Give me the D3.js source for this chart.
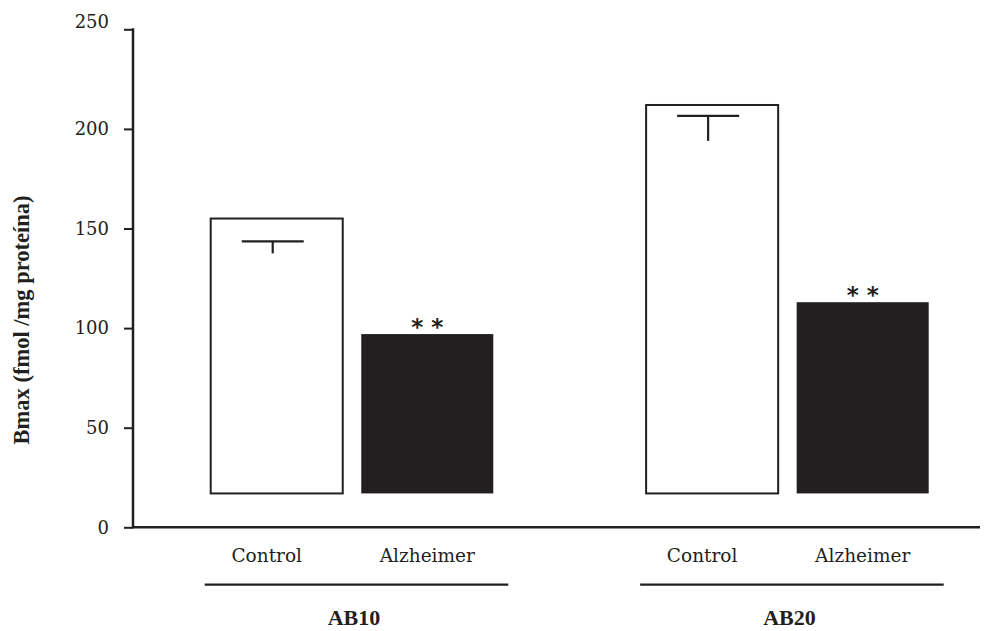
<!DOCTYPE html>
<html>
<head>
<meta charset="utf-8">
<script src="https://cdn.jsdelivr.net/npm/d3@7"></script>
<style>
  body { margin: 0; background: #fff; }
</style>
</head>
<body>
<script>
var groups = ["AB10", "AB20"];
var conditions = ["Control", "Alzheimer"];
var controlValues = [155, 212];
var alzheimerValues = [97, 113];
var controlErrTop = [143.5, 206.5];
var controlErrLow = [137.5, 194];
var significance = ["", "* *"];
var yTicks = [0, 50, 100, 150, 200, 250];
var barBase = 17;

var width = 993;
var height = 631;
var ink = "#231f20";

var svg = d3.select("body")
    .append("svg")
    .attr("width", width)
    .attr("height", height);

var y = d3.scaleLinear()
    .domain([0, 250])
    .range([527.3, 29.3]);

var x = d3.scaleBand()
    .domain(groups)
    .range([210.7, 928.7])
    .paddingInner(0.351)
    .paddingOuter(0);

var xi = d3.scaleBand()
    .domain(conditions)
    .range([0, x.bandwidth()])
    .paddingInner(0.123);

// rows: one per bar
var rows = [];
groups.forEach(function(g, i) {
    rows.push({ group: g, cond: "Control", value: controlValues[i], errTop: controlErrTop[i], errLow: controlErrLow[i], sig: significance[0] });
    rows.push({ group: g, cond: "Alzheimer", value: alzheimerValues[i], sig: significance[1] });
});

// y axis
var yAxis = svg.append("g")
    .attr("transform", "translate(133,0)")
    .call(d3.axisLeft(y).tickValues(yTicks).tickSize(9).tickPadding(15));
yAxis.select(".domain").remove();
yAxis.selectAll(".tick line").attr("stroke", ink).attr("stroke-width", 2);
yAxis.selectAll(".tick text")
    .attr("fill", ink)
    .style("font-family", "'DejaVu Serif', serif")
    .style("font-size", "18px");
// top label sits a little above its tick in the original
yAxis.selectAll(".tick text")
    .filter(function(d) { return d === 250; })
    .attr("dy", "-0.1em");

svg.append("line")
    .attr("x1", 133).attr("x2", 133)
    .attr("y1", y(250) - 1).attr("y2", y(0) + 1)
    .attr("stroke", ink).attr("stroke-width", 2.5);

svg.append("line")
    .attr("x1", 133).attr("x2", 980)
    .attr("y1", y(0)).attr("y2", y(0))
    .attr("stroke", ink).attr("stroke-width", 2.5);

// bars
svg.append("g")
    .selectAll("rect")
    .data(rows)
    .enter().append("rect")
    .attr("x", function(d) { return x(d.group) + xi(d.cond); })
    .attr("width", xi.bandwidth())
    .attr("y", function(d) { return y(d.value); })
    .attr("height", function(d) { return y(barBase) - y(d.value); })
    .attr("fill", function(d) { return d.cond === "Control" ? "#fff" : ink; })
    .attr("stroke", ink)
    .attr("stroke-width", function(d) { return d.cond === "Control" ? 2 : 0; });

// error bars (control only)
var errRows = rows.filter(function(d) { return d.errTop !== undefined; });
var errG = svg.append("g").attr("stroke", ink).attr("stroke-width", 2.2);
errG.selectAll(".cap")
    .data(errRows)
    .enter().append("line")
    .attr("x1", function(d) { return x(d.group) + xi(d.cond) + xi.bandwidth() / 2 - 35; })
    .attr("x2", function(d) { return x(d.group) + xi(d.cond) + xi.bandwidth() / 2 + 27; })
    .attr("y1", function(d) { return y(d.errTop); })
    .attr("y2", function(d) { return y(d.errTop); });
errG.selectAll(".stem")
    .data(errRows)
    .enter().append("line")
    .attr("x1", function(d) { return x(d.group) + xi(d.cond) + xi.bandwidth() / 2 - 4; })
    .attr("x2", function(d) { return x(d.group) + xi(d.cond) + xi.bandwidth() / 2 - 4; })
    .attr("y1", function(d) { return y(d.errTop); })
    .attr("y2", function(d) { return y(d.errLow); });

// significance marks
svg.append("g")
    .selectAll("text")
    .data(rows.filter(function(d) { return d.sig; }))
    .enter().append("text")
    .attr("x", function(d) { return x(d.group) + xi(d.cond) + xi.bandwidth() / 2; })
    .attr("y", function(d) { return y(d.value) + 1; })
    .attr("text-anchor", "middle")
    .attr("fill", ink)
    .style("font-family", "'DejaVu Sans', sans-serif")
    .style("font-weight", "bold")
    .style("font-size", "23px")
    .text(function(d) { return d.sig; });

// condition labels
svg.append("g")
    .selectAll("text")
    .data(rows)
    .enter().append("text")
    .attr("x", function(d) { return x(d.group) + xi(d.cond) + xi.bandwidth() / 2 + (d.cond === "Control" ? -10 : 0); })
    .attr("y", 562)
    .attr("text-anchor", "middle")
    .attr("fill", ink)
    .style("font-family", "'DejaVu Serif', serif")
    .style("font-size", "18.5px")
    .text(function(d) { return d.cond; });

// group underline + labels
var gl = svg.append("g")
    .selectAll("g")
    .data(groups)
    .enter().append("g");
gl.append("line")
    .attr("x1", function(d) { return x(d) - 6; })
    .attr("x2", function(d) { return x(d) + x.bandwidth() + 15; })
    .attr("y1", 584.7).attr("y2", 584.7)
    .attr("stroke", ink).attr("stroke-width", 2.2);
gl.append("text")
    .attr("x", function(d) { return x(d) + x.bandwidth() / 2 + 2; })
    .attr("y", 625)
    .attr("text-anchor", "middle")
    .attr("fill", ink)
    .style("font-family", "'Liberation Serif', serif")
    .style("font-weight", "bold")
    .style("font-size", "22px")
    .text(function(d) { return d; });

// y title
svg.append("text")
    .attr("transform", "translate(29,320) rotate(-90)")
    .attr("text-anchor", "middle")
    .attr("fill", ink)
    .style("font-family", "'Liberation Serif', serif")
    .style("font-weight", "bold")
    .style("font-size", "22.5px")
    .text("Bmax (fmol /mg proteína)");
</script>
</body>
</html>
